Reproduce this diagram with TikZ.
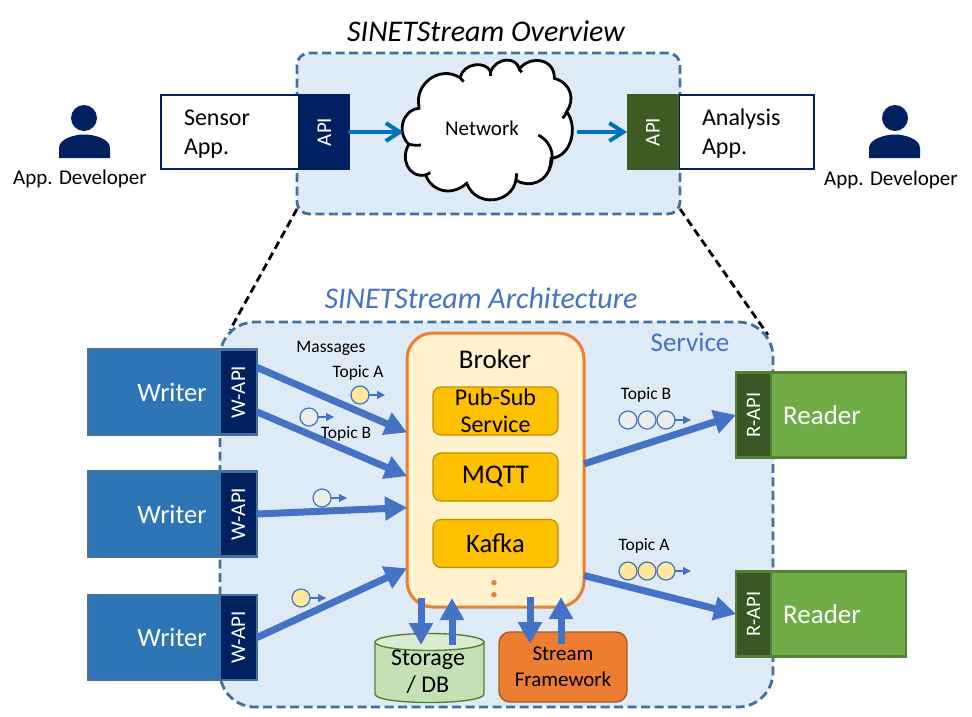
\documentclass[tikz,border=0pt]{standalone}
\usepackage{fontspec}
\setmainfont{Carlito}
\usetikzlibrary{positioning,arrows.meta}
\definecolor{panelfill}{HTML}{DEEAF6}
\definecolor{paneldash}{HTML}{41719C}
\definecolor{navy}{HTML}{002060}
\definecolor{moss}{HTML}{3E5B23}
\definecolor{lineblue}{HTML}{4472C4}
\definecolor{pipeblue}{HTML}{0070C0}
\definecolor{writerblue}{HTML}{2E75B6}
\definecolor{readergreen}{HTML}{70AD47}
\definecolor{readeredge}{HTML}{548235}
\definecolor{apigreen}{HTML}{385723}
\definecolor{brokerfill}{HTML}{FFF2CC}
\definecolor{brokeredge}{HTML}{ED7D31}
\definecolor{partfill}{HTML}{FFC000}
\definecolor{partedge}{HTML}{BF9000}
\definecolor{msggrey}{HTML}{EDEDED}
\definecolor{msgyellow}{HTML}{FFE699}
\definecolor{storefill}{HTML}{C5E0B4}
\definecolor{storetop}{HTML}{DCEBD2}
\definecolor{streamedge}{HTML}{AE5A21}
\newcommand{\fsize}[2]{\fontsize{#1}{#2}\selectfont}
\tikzset{
	panel/.style={draw=paneldash, fill=panelfill, line width=2.8pt, dash pattern=on 9pt off 4.5pt},
	zoomline/.style={line width=2.8pt, dash pattern=on 8pt off 4.5pt},
	appbox/.style={draw=navy, fill=white, line width=2.4pt, outer sep=0pt, minimum height=74pt, align=left, inner xsep=23pt, font=\fsize{24}{29}},
	apibox/.style={fill=#1, outer sep=0pt, minimum height=76pt, text=white, font=\fsize{21}{21}, inner sep=0pt},
	pipe/.style={draw=pipeblue, line width=4pt, line cap=round, -{Straight Barb[length=14pt,width=18pt]}},
	flow/.style={draw=lineblue, line width=7pt, -{Triangle[length=22pt,width=23pt]}},
	msg/.style={circle, draw=lineblue, line width=1.2pt, fill=#1, minimum size=18pt, inner sep=0pt, outer sep=0pt},
	tiparrow/.style={draw=lineblue, line width=1.2pt, -{Triangle[length=8pt,width=8pt]}},
	tag/.style={font=\fsize{17.5}{20}, inner sep=0pt},
	who/.style={font=\fsize{21}{21}, inner sep=0pt},
	writer/.style={draw=paneldash, fill=writerblue, line width=2.4pt, outer sep=0pt, minimum width=132pt, minimum height=85pt, text=white, font=\fsize{26.5}{25}, inner xsep=0pt},
	wapi/.style={draw=paneldash, fill=navy, line width=2.4pt, outer sep=0pt, minimum width=37pt, minimum height=85pt, text=white, font=\fsize{21}{21}, inner sep=0pt},
	reader/.style={draw=readeredge, fill=readergreen, line width=2.4pt, outer sep=0pt, minimum width=135pt, minimum height=85pt, text=white, font=\fsize{27}{26}, inner xsep=0pt},
	rapi/.style={draw=readeredge, fill=apigreen, line width=2.4pt, outer sep=0pt, minimum width=35pt, minimum height=85pt, text=white, font=\fsize{20.5}{21}, inner sep=0pt},
	part/.style={draw=partedge, fill=partfill, line width=1.2pt, rounded corners=8pt, outer sep=0pt, minimum width=125pt, minimum height=48pt, align=center, inner sep=0pt},
}
\begin{document}
\begin{tikzpicture}[x=1pt, y=-1pt]
	\useasboundingbox (0,0) rectangle (972,716);

	\node [font=\fsize{30}{31}\itshape, inner sep=0pt] (titleTop) at (486,31) {SINETStream Overview};
	\draw [panel, rounded corners=12pt] (297,53) rectangle (680,214);

	\node [circle, fill=navy, minimum size=26pt, inner sep=0pt] (headA) at (84,118) {};
	\fill [navy] (59,158) -- (59,148) .. controls (59,139) and (74,134.5) .. (84,134.5) .. controls (95,134.5) and (110,139) .. (110,148) -- (110,158) -- cycle;
	\node [who] (devA) at (80,179) {App. Developer};
	\node [circle, fill=navy, minimum size=26pt, inner sep=0pt] (headB) at (895,118) {};
	\fill [navy] (869,158) -- (869,148) .. controls (869,139) and (885,134.5) .. (895,134.5) .. controls (905,134.5) and (920,139) .. (920,148) -- (920,158) -- cycle;
	\node [who] (devB) at (891,180) {App. Developer};

	\node [appbox, text width=92pt] (sensor) at (230,132) {\rule{0pt}{20pt}Sensor\\App.};
	\node [apibox=navy, minimum width=51pt, right=0pt of sensor] (apiSensor) {\rotatebox{90}{API}};
	\node [appbox, text width=89pt] (analysis) at (746.5,132) {\rule{0pt}{20pt}Analysis\\App.};
	\node [apibox=moss, minimum width=52pt, left=0pt of analysis] (apiAnalysis) {\rotatebox{90}{API}};

	\begin{scope}[shift={(395,55)}, x=.3333pt, y=-.3333pt, line width=2.8pt]
		\draw [fill=white] (72,155) .. controls (58,85) and (135,30) .. (195,68)
			.. controls (205,25) and (270,15) .. (287,50)
			.. controls (305,5) and (365,5) .. (373,42)
			.. controls (405,0) and (480,10) .. (478,70)
			.. controls (530,85) and (540,135) .. (515,170)
			.. controls (550,215) and (530,305) .. (468,310)
			.. controls (468,325) and (465,335) .. (462,345)
			.. controls (440,395) and (385,392) .. (363,375)
			.. controls (350,445) and (245,460) .. (215,385)
			.. controls (170,425) and (110,410) .. (92,360)
			.. controls (40,370) and (15,310) .. (42,268)
			.. controls (5,235) and (20,165) .. (72,160) -- cycle;
		\draw (195,68) to (206,80);
		\draw (287,50) to (287,62);
		\draw (373,42) to (380,52);
		\draw (515,170) .. controls (512,178) and (508,185) .. (503,190);
		\draw (430,240) .. controls (475,265) and (480,310) .. (462,345);
		\draw (363,375) to (365,355);
		\draw (92,360) to (106,353);
		\draw (42,268) .. controls (52,270) and (65,272) .. (78,270);
	\end{scope}
	\node [minimum width=171pt, minimum height=140pt, inner sep=0pt, outer sep=0pt] (network) at (489,132) {};
	\node [font=\fsize{21}{21}, inner sep=0pt] (networkText) at (482,128) {Network};
	\draw [pipe] (apiSensor.east) to (network.west);
	\draw [pipe, shorten <=4pt] (network.east) to (apiAnalysis.west);

	\node [font=\fsize{30}{32}\itshape, text=lineblue, inner sep=0pt] (titleLow) at (481,298) {SINETStream Architecture};

	\coordinate (zoomTopA) at (297,209);
	\coordinate (zoomLowA) at (230,330);
	\coordinate (zoomTopB) at (680,209);
	\coordinate (zoomLowB) at (768,335);
	\draw [zoomline] (zoomTopA) to (zoomLowA);
	\draw [zoomline] (zoomTopB) to (zoomLowB);

	\draw [panel, rounded corners=35pt] (220,322) rectangle (773,707);
	\node [font=\fsize{27}{27}, text=lineblue, inner sep=0pt] (service) at (690,342) {Service};

	\node [writer] (writerA) at (154,392) {\hspace*{36pt}\raisebox{-2pt}{Writer}};
	\node [writer] (writerB) at (154,514) {\hspace*{36pt}\raisebox{-2pt}{Writer}};
	\node [writer] (writerC) at (154,637.5) {\hspace*{36pt}\raisebox{-2pt}{Writer}};
	\node [wapi, right=0pt of writerA] (wapiA) {\rotatebox{90}{W-API}};
	\node [wapi, right=0pt of writerB] (wapiB) {\rotatebox{90}{W-API}};
	\node [wapi, right=0pt of writerC] (wapiC) {\rotatebox{90}{W-API}};

	\node [reader] (readerA) at (838.5,415) {\hspace*{-33pt}Reader};
	\node [reader] (readerB) at (838.5,614) {\hspace*{-33pt}Reader};
	\node [rapi, left=0pt of readerA] (rapiA) {\rotatebox{90}{R-API}};
	\node [rapi, left=0pt of readerB] (rapiB) {\rotatebox{90}{R-API}};

	\node [draw=brokeredge, fill=brokerfill, line width=3pt, rounded corners=26pt, outer sep=0pt, minimum width=177pt, minimum height=274pt] (broker) at (495.5,470) {};
	\node [font=\fsize{27}{27}, inner sep=0pt] (brokerText) at (495,359) {Broker};
	\node [part, font=\fsize{24}{27}] (pubsub) at (495.5,411) {Pub-Sub\\Service};
	\node [part, font=\fsize{27}{27}] (mqtt) at (495.5,477) {\raisebox{-2pt}{MQTT}};
	\node [part, font=\fsize{26.5}{27}] (kafka) at (495.5,543.5) {\raisebox{-2pt}{Kafka}};
	\node [font=\fsize{36}{36}\bfseries, text=brokeredge, inner sep=0pt] (more) at (494,589) {:};

	\fill [storefill] (375,642) -- (375,694) .. controls (375,705.3) and (484,705.3) .. (484,694) -- (484,642) -- cycle;
	\draw [readeredge, line width=1.4pt] (375,642) -- (375,694) .. controls (375,705.3) and (484,705.3) .. (484,694) -- (484,642);
	\draw [readeredge, fill=storetop, line width=1.4pt] (429.5,642) ellipse [x radius=54.5pt, y radius=8.5pt];
	\node [align=center, font=\fsize{24}{27}, inner sep=0pt] (storage) at (428,672) {Storage\\/ DB};
	\node [draw=streamedge, fill=brokeredge, line width=1.4pt, rounded corners=11pt, outer sep=0pt, minimum width=128pt, minimum height=70pt, align=center, inner sep=0pt, font=\fsize{21}{26}] (stream) at (563,667) {\raisebox{-1pt}{Stream}\\\raisebox{-1pt}{Framework}};

	\coordinate (storeDown) at (421,645);
	\coordinate (storeUp) at (452,645);
	\coordinate (streamDown) at (530,644);
	\coordinate (streamUp) at (561,644);
	\draw [flow, shorten <=-9pt] (broker.south -| storeDown) to (storeDown);
	\draw [flow, shorten >=-9pt] (storeUp) to (broker.south -| storeUp);
	\draw [flow, shorten <=-10pt] (broker.south -| streamDown) to (streamDown);
	\draw [flow, shorten >=-10pt] (streamUp) to (broker.south -| streamUp);

	\draw [flow] (wapiA.53) to (broker.157);
	\draw [flow] (wapiA.-47) to (broker.184.5);
	\draw [flow] (wapiB.east) to (broker.203.4);
	\draw [flow] (wapiC.east) to (broker.228);
	\draw [flow] (broker.4.5) to (rapiA.west);
	\draw [flow] (broker.-50.4) to (rapiB.west);

	\foreach \name/\x/\y/\tint in {msgA/360/395/msgyellow, msgB/309/417/msggrey, msgC/322/498/msggrey, msgD/301/598/msgyellow} {
		\node [msg=\tint] (\name) at (\x,\y) {};
		\coordinate [right=16pt of \name.east] (\name tip);
		\draw [tiparrow] (\name.east) to (\name tip);
	}
	\foreach \name/\y/\tint in {msgE/420/msggrey, msgF/571/msgyellow} {
		\node [msg=\tint] (\name one) at (628,\y) {};
		\node [msg=\tint, right=1pt of \name one] (\name two) {};
		\node [msg=\tint, right=1pt of \name two] (\name three) {};
		\coordinate [right=16pt of \name three.east] (\name tip);
		\draw [tiparrow] (\name three.east) to (\name tip);
	}

	\node [tag] (massages) at (331,348) {Massages};
	\node [tag] (topicA) at (358,373) {Topic A};
	\node [tag] (topicB) at (346,434) {Topic B};
	\node [tag] (topicC) at (646,395) {Topic B};
	\node [tag] (topicD) at (644,546) {Topic A};
\end{tikzpicture}
\end{document}
